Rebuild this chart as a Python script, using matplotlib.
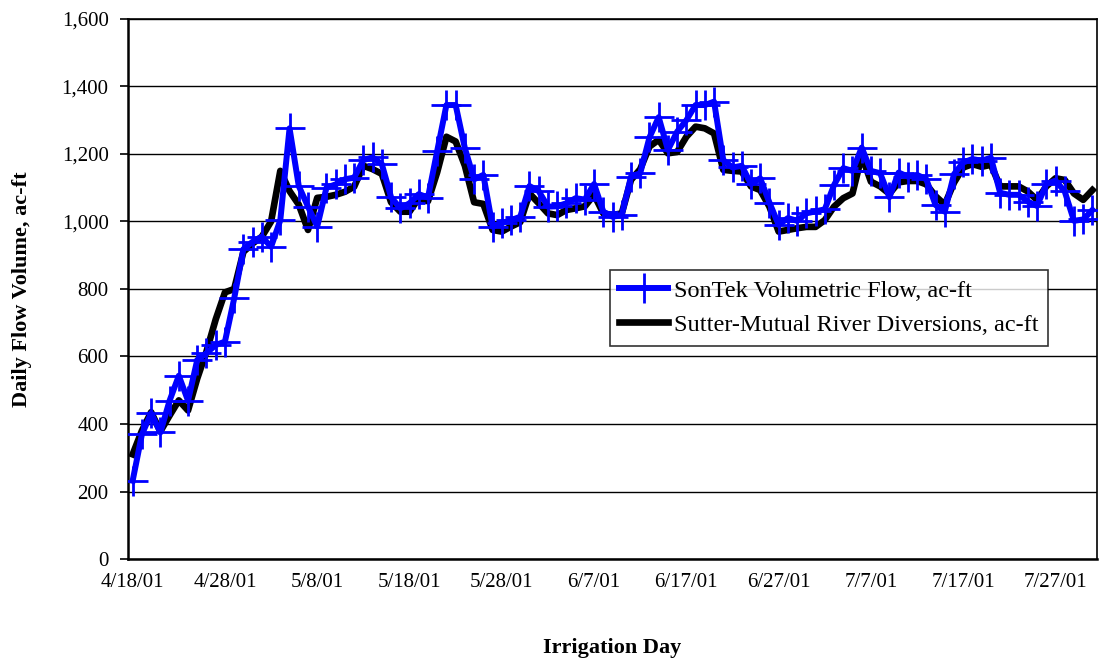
import numpy as np
import pandas as pd
import matplotlib
matplotlib.use("Agg")
import matplotlib.pyplot as plt
from matplotlib.ticker import FuncFormatter

# daily values, 4/18/01 .. 7/31/01
start_date = "2001-04-18"
sontek_flow = [
    232, 369, 432, 375, 469, 543, 469, 590, 610, 634,
    644, 772, 918, 940, 955, 925, 1004, 1276, 1105, 1044,
    985, 1100, 1110, 1125, 1130, 1182, 1190, 1170, 1072, 1039,
    1054, 1081, 1071, 1209, 1345, 1345, 1217, 1125, 1138, 985,
    995, 1004, 1014, 1105, 1090, 1044, 1045, 1054, 1069, 1065,
    1111, 1029, 1014, 1019, 1133, 1143, 1249, 1309, 1212, 1266,
    1300, 1345, 1345, 1355, 1182, 1160, 1165, 1111, 1128, 1056,
    990, 1010, 1002, 1024, 1030, 1036, 1108, 1158, 1150, 1219,
    1150, 1143, 1072, 1145, 1133, 1138, 1125, 1049, 1029, 1140,
    1175, 1185, 1180, 1189, 1085, 1079, 1079, 1059, 1046, 1111,
    1121, 1089, 1002, 1006, 1034,
]
diversions = [
    310, 380, 435, 378, 425, 470, 440, 535, 615, 710,
    790, 800, 910, 935, 955, 1000, 1150, 1090, 1050, 975,
    1070, 1073, 1079, 1088, 1103, 1165, 1155, 1141, 1057, 1029,
    1029, 1069, 1060, 1146, 1251, 1237, 1165, 1057, 1052, 975,
    970, 985, 998, 1083, 1054, 1024, 1019, 1034, 1039, 1045,
    1079, 1024, 1019, 1024, 1123, 1155, 1222, 1242, 1202, 1206,
    1251, 1281, 1276, 1261, 1153, 1150, 1148, 1104, 1093, 1044,
    970, 975, 980, 984, 984, 1004, 1044, 1069, 1083, 1195,
    1118, 1104, 1082, 1116, 1120, 1120, 1110, 1075, 1050, 1115,
    1160, 1170, 1162, 1168, 1104, 1104, 1104, 1089, 1064, 1104,
    1128, 1123, 1083, 1064, 1093,
]
tick_labels = ["4/18/01", "4/28/01", "5/8/01", "5/18/01", "5/28/01", "6/7/01",
               "6/17/01", "6/27/01", "7/7/01", "7/17/01", "7/27/01"]

days = pd.date_range(start_date, periods=len(sontek_flow), freq="D")

plt.rcParams["font.family"] = ["Liberation Serif", "DejaVu Serif"]

fig = plt.figure(figsize=(11.01, 6.61), dpi=100)
ax = fig.add_axes([0.1163, 0.1543, 0.8801, 0.8170])

ax.plot(days, diversions, color="black", lw=4.8, solid_joinstyle="round",
        label="Sutter-Mutual River Diversions, ac-ft", zorder=3)
ax.plot(days, sontek_flow, color="#0000ff", lw=4.3, marker="+", ms=21,
        mew=2.0, label="SonTek Volumetric Flow, ac-ft", zorder=4)

half_day = pd.Timedelta(hours=12)
ax.set_xlim(days[0] - half_day, days[-1] + half_day)
ax.set_ylim(0, 1600)
ax.set_yticks(np.arange(0, 1601, 200))
ax.yaxis.set_major_formatter(FuncFormatter(lambda v, p: f"{int(v):,}"))
ax.set_xticks(days[::10])
ax.set_xticklabels(tick_labels)
ax.tick_params(axis="x", length=0, pad=10, labelsize=15)
ax.tick_params(axis="y", length=6, width=1.2, direction="out", pad=8, labelsize=15)

ax.grid(axis="y", color="black", lw=1.0)
ax.set_axisbelow(True)
for side in ["left", "bottom", "right", "top"]:
    ax.spines[side].set_color("black")
    ax.spines[side].set_linewidth(1.2)
ax.spines["left"].set_linewidth(1.8)
ax.spines["bottom"].set_linewidth(1.8)

ax.set_ylabel("Daily Flow Volume, ac-ft", fontsize=16, fontweight="bold", labelpad=21)
ax.set_xlabel("Irrigation Day", fontsize=16, fontweight="bold", labelpad=33)

handles, labels = ax.get_legend_handles_labels()
leg = ax.legend(handles[::-1], labels[::-1], loc="upper left",
                bbox_to_anchor=(0.497, 0.535), fontsize=17.5, frameon=True,
                fancybox=False, edgecolor="black", borderpad=0.4,
                handlelength=2.0, handletextpad=0.25, labelspacing=0.5,
                borderaxespad=0)
leg.get_frame().set_linewidth(1.2)

fig.savefig("out.png", dpi=100)
plt.close(fig)
